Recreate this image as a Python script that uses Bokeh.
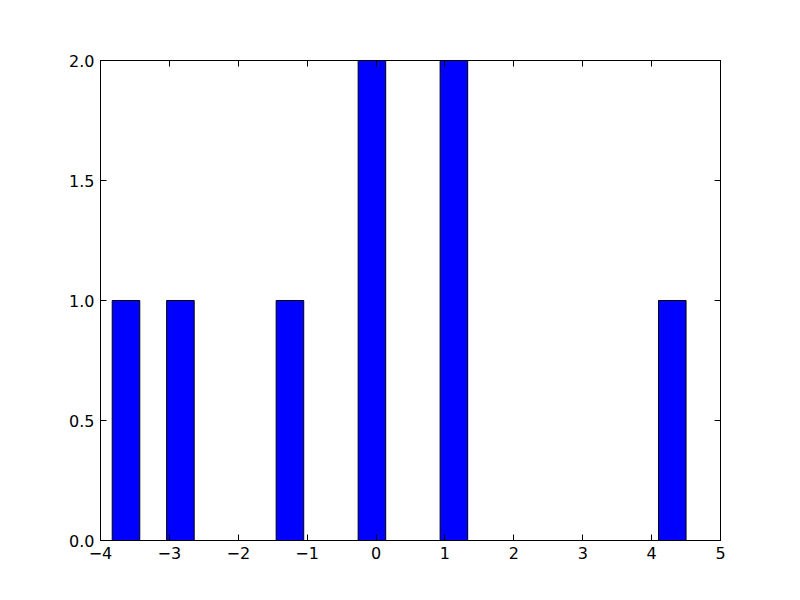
from bokeh.plotting import figure
from bokeh.models import LinearAxis, FixedTicker, CustomJSTickFormatter, Range1d
from bokeh.embed import file_html
from bokeh.resources import INLINE

# histogram bins (edges) and counts
bin_left = [-3.83, -3.04, -1.45, -0.26, 0.93, 4.10]
bin_right = [-3.43, -2.64, -1.05, 0.14, 1.33, 4.50]
counts = [1, 1, 1, 2, 2, 1]

x_ticks = [-4, -3, -2, -1, 0, 1, 2, 3, 4, 5]
y_ticks = [0.0, 0.5, 1.0, 1.5, 2.0]

p = figure(frame_width=620, frame_height=480, output_backend="svg",
           toolbar_location=None, x_range=Range1d(-4, 5), y_range=Range1d(0, 2),
           min_border_left=100, min_border_right=64, min_border_top=60, min_border_bottom=44)
p.background_fill_color = "white"
p.border_fill_color = "white"
p.outline_line_color = "black"
p.outline_line_width = 1
p.grid.visible = False

p.quad(left=bin_left, right=bin_right, bottom=0, top=counts,
       fill_color="#0000ff", line_color="black", line_width=1)

fmt_x = CustomJSTickFormatter(code="return tick < 0 ? '\u2212' + Math.abs(tick) : String(tick);")
fmt_y = CustomJSTickFormatter(code="return tick.toFixed(1);")
blank = CustomJSTickFormatter(code="return '';")

def style(ax):
    ax.axis_line_color = "black"
    ax.major_tick_in = 6
    ax.major_tick_out = 0
    ax.minor_tick_in = 0
    ax.minor_tick_out = 0
    ax.major_tick_line_color = "black"
    ax.major_label_text_font = "DejaVu Sans"
    ax.major_label_text_font_size = "16px"
    ax.major_label_text_color = "black"
    ax.major_label_standoff = 6

xa = p.xaxis[0]
xa.ticker = FixedTicker(ticks=x_ticks)
xa.formatter = fmt_x
style(xa)
ya = p.yaxis[0]
ya.ticker = FixedTicker(ticks=y_ticks)
ya.formatter = fmt_y
style(ya)

top = LinearAxis(ticker=FixedTicker(ticks=x_ticks), formatter=blank)
style(top)
top.major_label_standoff = 0
p.add_layout(top, "above")
right = LinearAxis(ticker=FixedTicker(ticks=y_ticks), formatter=blank)
style(right)
right.major_label_standoff = 0
p.add_layout(right, "right")

open("out.html", "w").write(file_html(p, INLINE))
